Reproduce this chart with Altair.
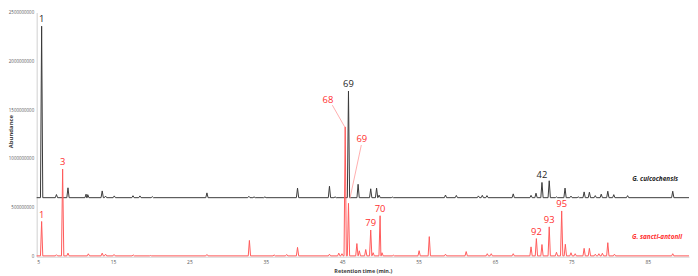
import altair as alt
import pandas as pd

# ---- data (retention time in min, abundance) ----
black_rt = [5.65, 7.59, 9.10, 11.47, 11.69, 13.58, 14.02, 15.16, 17.61, 18.52, 20.14,
            27.29, 32.78, 33.46, 34.88, 39.15, 43.33, 44.07, 45.82, 47.08, 48.73, 49.50,
            49.83, 51.57, 58.52, 59.94, 62.83, 63.34, 63.95, 67.39, 69.72, 70.37, 71.15,
            72.10, 73.05, 74.17, 74.95, 75.90, 76.67, 77.36, 78.13, 78.91, 79.77, 80.55,
            82.36, 88.27]
black_ab = [2360e6, 636e6, 705e6, 640e6, 635e6, 673e6, 620e6, 622e6, 624e6, 622e6, 615e6,
            653e6, 618e6, 612e6, 612e6, 702e6, 721e6, 612e6, 1696e6, 741e6, 695e6, 702e6,
            630e6, 610e6, 631e6, 627e6, 622e6, 628e6, 625e6, 643e6, 628e6, 650e6, 760e6,
            777e6, 612e6, 702e6, 620e6, 612e6, 663e6, 660e6, 625e6, 640e6, 670e6, 635e6,
            625e6, 670e6]
black_base = 604e6

red_rt = [5.65, 7.59, 8.40, 9.10, 11.77, 13.58, 14.02, 15.13, 17.64, 19.90, 27.29,
          32.85, 36.09, 37.73, 39.15, 43.33, 44.55, 44.97, 45.39, 45.82, 46.92, 47.24,
          48.08, 48.73, 49.05, 49.96, 50.21, 51.70, 55.07, 56.40, 58.52, 61.23, 63.99,
          64.51, 67.39, 69.72, 70.42, 71.15, 72.10, 73.05, 73.73, 74.21, 74.95, 75.50,
          76.67, 77.36, 78.13, 78.60, 79.06, 79.77, 80.64, 88.27]
red_ab = [360e6, 20e6, 897e6, 36e6, 29e6, 36e6, 25e6, 22e6, 18e6, 12e6, 22e6,
          166e6, 18e6, 22e6, 95e6, 25e6, 36e6, 30e6, 1329e6, 546e6, 134e6, 60e6,
          73e6, 273e6, 40e6, 419e6, 40e6, 15e6, 61e6, 205e6, 25e6, 52e6, 30e6,
          30e6, 30e6, 100e6, 185e6, 124e6, 305e6, 45e6, 468e6, 127e6, 40e6, 30e6,
          85e6, 85e6, 25e6, 30e6, 35e6, 143e6, 25e6, 30e6]
red_base = 8e6

black_labels = ["1", "69", "42"]
black_label_rt = [5.65, 45.82, 71.15]
red_labels = ["1", "3", "79", "70", "92", "93", "95"]
red_label_rt = [5.65, 8.40, 48.73, 49.96, 70.42, 72.10, 73.73]
callout_labels = ["68", "69"]
callout_rt = [45.39, 45.82]

series_names = ["G. cuicochensis", "G. sancti-antonii"]
x_ticks = [5, 15, 25, 35, 45, 55, 65, 75, 85]
y_ticks = [0, 500000000, 1000000000, 1500000000, 2000000000, 2500000000]

BLACK = "#3a3a3a"
BLACK_TEXT = "#1f1f1f"
RED_LINE = "#ff5a5a"
RED_TEXT = "#ff2e2e"
HALF_W = 0.15
X_DOMAIN = [5, 90.4]


def trace(rts, abds, base, name):
    rows = [(X_DOMAIN[0], base), (X_DOMAIN[1], base)]
    for r, a in zip(rts, abds):
        rows += [(r - HALF_W, base), (r, a), (r + HALF_W, base)]
    df = pd.DataFrame(rows, columns=["rt", "ab"]).sort_values("rt", kind="stable")
    df["series"] = name
    return df


lines_df = pd.concat([trace(black_rt, black_ab, black_base, series_names[0]),
                      trace(red_rt, red_ab, red_base, series_names[1])])

bmap = dict(zip(black_rt, black_ab))
rmap = dict(zip(red_rt, red_ab))
lab_df = pd.DataFrame(
    [(t, r, bmap[r], BLACK_TEXT) for t, r in zip(black_labels, black_label_rt)] +
    [(t, r, rmap[r], RED_TEXT) for t, r in zip(red_labels, red_label_rt)],
    columns=["label", "rt", "ab", "col"])
call_df = pd.DataFrame([(t, r, rmap[r]) for t, r in zip(callout_labels, callout_rt)],
                       columns=["label", "rt", "ab"])

FONT = "Open Sans"
xs = alt.X("rt:Q", scale=alt.Scale(domain=X_DOMAIN, nice=False, zero=False),
           axis=alt.Axis(values=x_ticks, title="Retention time (min.)", ticks=False,
                         grid=False, domainColor="#d0d0d0", labelFontSize=5,
                         labelColor="#595959", labelPadding=3, labelFont=FONT,
                         titleFont=FONT, titleFontSize=5.5, titleFontWeight="bold",
                         titleColor="#404040", titleY=14, titleBaseline="middle"))
ys = alt.Y("ab:Q", scale=alt.Scale(domain=[0, 2.5e9], nice=False),
           axis=alt.Axis(values=y_ticks, format="d", title="Abundance", ticks=False,
                         grid=False, domainColor="#d0d0d0", labelFontSize=4.5,
                         labelColor="#595959", labelPadding=3, labelFont=FONT,
                         titleFont=FONT, titleFontSize=6, titleFontWeight="bold",
                         titleColor="#404040", titleAngle=-90, titleX=-26, titleY=120,
                         titleAlign="center", titleBaseline="middle"))
color = alt.Color("series:N", scale=alt.Scale(domain=series_names, range=[BLACK, RED_LINE]),
                  legend=None)

lines = alt.Chart(lines_df).mark_line(strokeWidth=1, interpolate="linear").encode(
    x=xs, y=ys, color=color, detail="series:N")

peak_labels = alt.Chart(lab_df).mark_text(font=FONT, fontSize=9.5, dy=-7, baseline="middle").encode(
    x="rt:Q", y="ab:Q", text="label:N", color=alt.Color("col:N", scale=None))

c68 = call_df[call_df.label == "68"]
c69 = call_df[call_df.label == "69"]
rule68 = alt.Chart(c68).mark_rule(color="#ff9a9a", strokeWidth=0.8, xOffset=-0.5,
                                  x2Offset=-13, y2Offset=-22).encode(
    x="rt:Q", y="ab:Q", x2="rt:Q", y2="ab:Q")
text68 = alt.Chart(c68).mark_text(font=FONT, fontSize=9.5, color=RED_TEXT, dx=-17.5, dy=-27,
                                  baseline="middle").encode(x="rt:Q", y="ab:Q", text="label:N")
rule69 = alt.Chart(c69).mark_rule(color="#ff9a9a", strokeWidth=0.8, xOffset=1.5, yOffset=-5,
                                  x2Offset=13, y2Offset=-59).encode(
    x="rt:Q", y="ab:Q", x2="rt:Q", y2="ab:Q")
text69 = alt.Chart(c69).mark_text(font=FONT, fontSize=9.5, color=RED_TEXT, dx=13.5, dy=-65,
                                  baseline="middle").encode(x="rt:Q", y="ab:Q", text="label:N")

names_df = pd.DataFrame({"series": series_names})
name_black = alt.Chart(names_df[names_df.series == series_names[0]]).mark_text(
    font=FONT, fontSize=6.5, fontStyle="italic", fontWeight="bold", color="#262626",
    align="right", baseline="middle").encode(
    text="series:N", x=alt.value(649), y=alt.value(168))
name_red = alt.Chart(names_df[names_df.series == series_names[1]]).mark_text(
    font=FONT, fontSize=6.5, fontStyle="italic", fontWeight="bold", color=RED_TEXT,
    align="right", baseline="middle").encode(
    text="series:N", x=alt.value(653), y=alt.value(227.5))

chart = alt.layer(lines, rule68, rule69, peak_labels, text68, text69, name_black, name_red).properties(
    width=660, height=247,
    autosize=alt.AutoSizeParams(type="none"),
    padding={"left": 29, "top": 3, "right": 1, "bottom": 18},
    background="white",
).configure_view(stroke=None)

chart.save("out.html", embed_options={"renderer": "svg", "actions": False})
